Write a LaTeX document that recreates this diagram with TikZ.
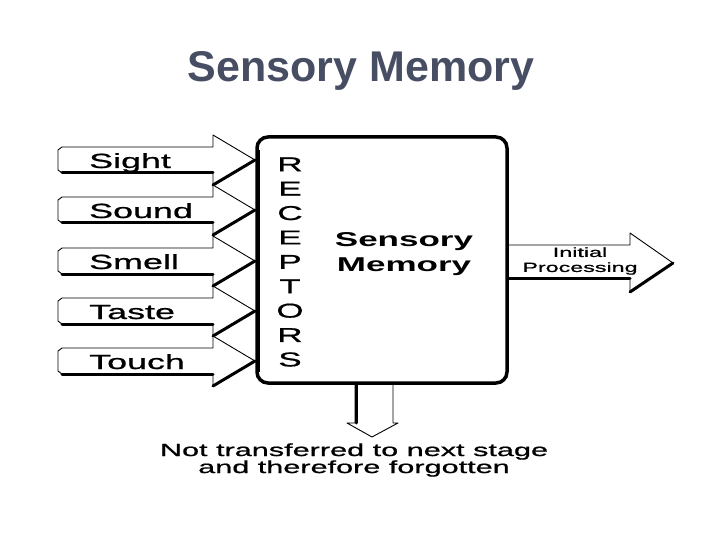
\documentclass[tikz,border=0pt]{standalone}
\usepackage{fontspec}
\usepackage{xcolor}
\usepackage{tikz}
\usetikzlibrary{calc}
\setmainfont{Liberation Sans}
\newfontfamily\widesans[FakeStretch=1.75]{Liberation Sans}
\newfontfamily\widemed[FakeStretch=1.75,FakeBold=0.9]{Liberation Sans}
\definecolor{slate}{HTML}{474D62}
\tikzset{
  inlab/.style={anchor=base west,inner sep=0pt,font=\widemed\fontsize{20.5}{24}\selectfont},
  arrowline/.style={line width=0.9pt,fill=white,line join=round},
  shade3d/.style={line width=3pt,line cap=round}
}
% #1 centre y, #2 node name, #3 label
\newcommand{\sensein}[3]{\draw[arrowline] (213,#1-13) -- (62,#1-13) -- (58,#1-10) -- (58,#1+10) -- (62,#1+13) -- (213,#1+13) -- (213,#1+25) -- (255,#1) -- (213,#1-25) -- cycle; \draw[shade3d] (62,#1+13) -- (213,#1+13); \draw[shade3d] (213,#1+25) -- (255,#1); \node[inlab] (#2) at (89,#1+8) {#3};}

\begin{document}
\begin{tikzpicture}[x=1pt,y=-1pt]
\useasboundingbox (0,0) rectangle (720,540);
\node[anchor=base,inner sep=0pt,text=slate,font=\bfseries\fontsize{43}{43}\selectfont] (title) at (361,82) {Sensory Memory};
\sensein{160}{sight}{Sight}
\sensein{210}{sound}{Sound}
\sensein{261}{smell}{Smell}
\sensein{311}{taste}{Taste}
\sensein{361}{touch}{Touch}
% output arrow and the forgotten arrow
\draw[arrowline] (500,245) -- (630,245) -- (630,233) -- (673,263) -- (630,292) -- (630,278) -- (500,278) -- cycle;
\draw[shade3d] (500,278) -- (630,278); \draw[shade3d] (630,292) -- (673,263);
\draw[arrowline] (355,375) -- (355,423) -- (347,423) -- (372,437) -- (398,423) -- (393,423) -- (393,375) -- cycle;
\draw[shade3d] (356,380) -- (356,423);
\draw[line width=3.5pt,fill=white,rounded corners=11pt] (257,137) rectangle (507,383);
\draw[line width=3pt] (258,150) -- (258,372);
\node[inner sep=0pt,align=center,font=\widemed\fontsize{20}{24.4}\selectfont] (receptors) at (290,262) {R\\E\\C\\E\\P\\T\\O\\R\\S};
\node[inner sep=0pt,align=center,font=\widesans\bfseries\fontsize{20}{25}\selectfont] (sensory) at (404,254) {Sensory\\Memory};
\node[inner sep=0pt,align=center,font=\widemed\fontsize{13.3}{15}\selectfont] (initial) at (580,261) {Initial\\Processing};
\node[inner sep=0pt,align=center,font=\widemed\fontsize{17.5}{17}\selectfont] (forgot) at (354,460) {Not transferred to next stage\\and therefore forgotten};
\end{tikzpicture}
\end{document}
